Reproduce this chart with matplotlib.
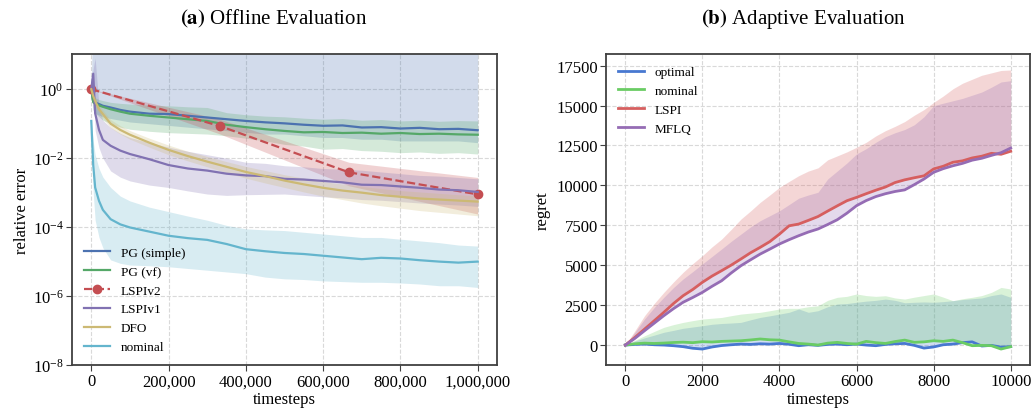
import numpy as np
import matplotlib
matplotlib.use("Agg")
import matplotlib.pyplot as plt
from matplotlib.ticker import FuncFormatter

plt.rcParams["font.family"] = ["Liberation Serif", "DejaVu Serif"]
plt.rcParams["mathtext.fontset"] = "stix"

# ---- (a) offline evaluation: values are log10(relative error) ----
t_off = [0, 5000, 10000, 20000, 30000, 50000, 75000, 100000, 150000, 200000,
         250000, 300000, 350000, 400000, 450000, 500000, 550000, 600000,
         650000, 700000, 750000, 800000, 850000, 900000, 950000, 1000000]

pg_simple = [0, -0.34, -0.39, -0.43, -0.48, -0.53, -0.60, -0.65, -0.71, -0.72, -0.77, -0.82, -0.87,
             -0.92, -0.96, -0.99, -1.03, -1.06, -1.05, -1.11, -1.10, -1.14, -1.12, -1.16, -1.15, -1.19]
pg_simple_lo = [0, -0.6, -0.7, -0.75, -0.8, -0.85, -0.9, -0.95, -1.0, -1.05, -1.1, -1.15, -1.2,
                -1.25, -1.3, -1.3, -1.35, -1.4, -1.4, -1.45, -1.45, -1.5, -1.5, -1.5, -1.5, -1.55]
pg_simple_hi = [0, 3, 3, 3, 3, 3, 3, 3, 3, 3, 3, 3, 3, 3, 3, 3, 3, 3, 3, 3, 3, 3, 3, 3, 3, 3]

pg_vf = [0, -0.38, -0.42, -0.47, -0.51, -0.58, -0.65, -0.71, -0.77, -0.82, -0.87, -0.92, -1.03,
         -1.10, -1.16, -1.21, -1.25, -1.24, -1.27, -1.26, -1.29, -1.27, -1.30, -1.29, -1.31, -1.32]
pg_vf_lo = [0, -0.6, -0.7, -0.8, -0.9, -1.0, -1.1, -1.16, -1.22, -1.26, -1.28, -1.30, -1.35,
            -1.42, -1.5, -1.6, -1.65, -1.74, -1.72, -1.78, -1.8, -1.84, -1.82, -1.86, -1.84, -1.88]
pg_vf_hi = [0, -0.2, -0.25, -0.3, -0.33, -0.38, -0.41, -0.43, -0.46, -0.48, -0.51, -0.53, -0.68,
            -0.74, -0.78, -0.8, -0.84, -0.87, -0.85, -0.9, -0.88, -0.92, -0.9, -0.93, -0.91, -0.92]

t_lspiv2 = [0, 333333, 666667, 1000000]
lspiv2 = [0, -1.07, -2.41, -3.05]
lspiv2_lo = [0, -1.30, -2.80, -3.62]
lspiv2_hi = [0, -0.87, -2.12, -2.56]

lspiv1 = [0, 0.45, -0.7, -1.18, -1.47, -1.64, -1.78, -1.88, -2.03, -2.2, -2.3, -2.36, -2.45,
          -2.5, -2.52, -2.6, -2.62, -2.66, -2.7, -2.77, -2.78, -2.82, -2.86, -2.91, -2.93, -2.98]
lspiv1_lo = [0, 0.2, -1.2, -1.7, -2.0, -2.37, -2.55, -2.66, -2.78, -2.85, -2.95, -3.04, -3.08,
             -3.06, -3.05, -3.04, -3.08, -3.12, -3.15, -3.2, -3.22, -3.26, -3.3, -3.33, -3.36, -3.4]
lspiv1_hi = [0, 0.6, 0.9, -0.5, -0.9, -1.11, -1.28, -1.40, -1.55, -1.68, -1.8, -1.9, -2.0,
             -2.12, -2.15, -2.22, -2.25, -2.3, -2.32, -2.35, -2.4, -2.45, -2.5, -2.52, -2.56, -2.6]

dfo = [0, -0.2, -0.34, -0.58, -0.72, -1.0, -1.18, -1.32, -1.55, -1.76, -1.94, -2.1, -2.25,
       -2.4, -2.52, -2.65, -2.76, -2.86, -2.94, -3.0, -3.07, -3.12, -3.17, -3.2, -3.23, -3.26]
dfo_lo = [0, -0.3, -0.45, -0.7, -0.85, -1.12, -1.3, -1.45, -1.68, -1.9, -2.08, -2.25, -2.42,
          -2.58, -2.72, -2.85, -2.98, -3.1, -3.2, -3.3, -3.38, -3.45, -3.52, -3.57, -3.62, -3.67]
dfo_hi = [0, -0.1, -0.22, -0.45, -0.6, -0.88, -1.06, -1.2, -1.42, -1.62, -1.8, -1.95, -2.1,
          -2.24, -2.36, -2.48, -2.58, -2.68, -2.75, -2.82, -2.88, -2.94, -2.98, -3.02, -3.06, -3.09]

nominal_off = [-0.92, -2.2, -2.85, -3.24, -3.5, -3.77, -3.92, -4.01, -4.13, -4.25, -4.32, -4.37, -4.49,
               -4.64, -4.7, -4.75, -4.78, -4.83, -4.88, -4.93, -4.89, -4.91, -4.96, -5.0, -5.03, -5.0]
nominal_off_lo = [-0.92, -3.0, -3.8, -4.3, -4.6, -4.95, -5.05, -5.1, -5.12, -5.15, -5.2, -5.25, -5.3,
                  -5.35, -5.45, -5.5, -5.52, -5.56, -5.58, -5.6, -5.6, -5.62, -5.65, -5.7, -5.7, -5.75]
nominal_off_hi = [-0.92, -1.5, -1.9, -2.3, -2.55, -2.85, -3.1, -3.24, -3.42, -3.55, -3.68, -3.8, -3.95,
                  -4.05, -4.08, -4.1, -4.15, -4.2, -4.25, -4.3, -4.3, -4.35, -4.4, -4.45, -4.52, -4.55]

# ---- (b) adaptive evaluation: regret, upper edge of shaded band ----
t_ad = np.arange(0, 10001, 250)

optimal = [0, 40, 60, 20, 0, -40, -100, -200, -250, -120, -30, 20, 60, 40, 80, 60, 100, 50, -40, 20, -20,
           40, 60, 20, 60, 0, -40, 40, 80, 100, -20, -190, -120, 20, 60, 150, 200, -60, -20, -130, -100]
optimal_hi = [0, 250, 450, 620, 800, 920, 1050, 1130, 1210, 1300, 1350, 1380, 1420, 1580, 1730, 1830,
              1940, 2050, 2260, 2050, 2150, 2400, 2570, 2600, 2680, 2750, 2800, 2880, 2800, 2650, 2680,
              2700, 2680, 2720, 2780, 2850, 2900, 2950, 3100, 3200, 2990]

nominal = [0, 80, 120, 100, 125, 160, 180, 150, 210, 190, 230, 250, 270, 320, 380, 330, 310, 200, 100, 60,
           0, 120, 170, 100, 60, 230, 150, 100, 220, 310, 170, 200, 270, 230, 310, 150, -40, -20, -40,
           -250, -100]
nominal_hi = [0, 300, 580, 850, 1110, 1280, 1420, 1530, 1630, 1680, 1730, 1840, 1940, 2000, 2050, 2150,
              2260, 2300, 2300, 2400, 2460, 2800, 2990, 3050, 3200, 3100, 3050, 3090, 2950, 2880, 3000,
              3100, 3200, 3000, 2780, 2900, 2990, 3100, 3300, 3610, 3510]

lspi = [0, 480, 1000, 1520, 2050, 2600, 3090, 3480, 3930, 4320, 4660, 5010, 5390, 5780, 6120, 6480,
        6950, 7470, 7580, 7810, 8050, 8390, 8720, 9040, 9250, 9480, 9700, 9900, 10180, 10350, 10480,
        10600, 11030, 11200, 11450, 11540, 11720, 11830, 12010, 11950, 12140]
lspi_hi = [0, 900, 1840, 2600, 3300, 3950, 4560, 5100, 5600, 6150, 6640, 7250, 7890, 8400, 8940, 9400,
           9880, 10250, 10610, 10900, 11100, 11600, 11850, 12100, 12390, 12700, 13100, 13430, 13700,
           14000, 14400, 14750, 15200, 15600, 16050, 16400, 16650, 16900, 17050, 17200, 17230]

mflq = [0, 420, 900, 1370, 1840, 2280, 2680, 2980, 3300, 3680, 4030, 4520, 4970, 5340, 5700, 6010,
        6330, 6600, 6850, 7080, 7270, 7550, 7850, 8260, 8730, 9050, 9300, 9480, 9620, 9720, 10050,
        10400, 10820, 11050, 11230, 11380, 11580, 11700, 11880, 12050, 12340]
mflq_hi = [0, 800, 1630, 2350, 2990, 3600, 4140, 4600, 5080, 5550, 6020, 6500, 6950, 7400, 7790, 8100,
           8410, 8800, 9200, 9400, 9570, 10400, 10900, 11400, 11970, 12300, 12700, 13050, 13300, 13500,
           13800, 14300, 14990, 15150, 15300, 15450, 15650, 15850, 16150, 16480, 16560]

deep = ["#4C72B0", "#55A868", "#C44E52", "#8172B2", "#CCB974", "#64B5CD"]
muted = ["#4878D0", "#6ACC64", "#D65F5F", "#956CB4"]

fig = plt.figure(figsize=(10.34, 4.14), dpi=100)
ax1 = fig.add_axes([0.0696, 0.1159, 0.4111, 0.7512])
ax2 = fig.add_axes([0.5861, 0.1159, 0.4100, 0.7512])


def p10(a):
    return 10.0 ** np.asarray(a)


off_series = [
    ("PG (simple)", t_off, pg_simple, pg_simple_lo, pg_simple_hi, deep[0], "-", None),
    ("PG (vf)", t_off, pg_vf, pg_vf_lo, pg_vf_hi, deep[1], "-", None),
    ("LSPIv2", t_lspiv2, lspiv2, lspiv2_lo, lspiv2_hi, deep[2], "--", "o"),
    ("LSPIv1", t_off, lspiv1, lspiv1_lo, lspiv1_hi, deep[3], "-", None),
    ("DFO", t_off, dfo, dfo_lo, dfo_hi, deep[4], "-", None),
    ("nominal", t_off, nominal_off, nominal_off_lo, nominal_off_hi, deep[5], "-", None),
]
for label, t, m, lo, hi, c, ls, mk in off_series:
    ax1.fill_between(t, p10(lo), p10(hi), color=c, alpha=0.25, linewidth=0)
for label, t, m, lo, hi, c, ls, mk in off_series:
    ax1.plot(t, p10(m), color=c, linestyle=ls, marker=mk, markersize=6, lw=1.6, label=label)

ax1.set_yscale("log")
ax1.set_ylim(1e-8, 1.05e1)
ax1.set_yticks([1e-8, 1e-6, 1e-4, 1e-2, 1e0])
ax1.yaxis.set_minor_locator(matplotlib.ticker.NullLocator())
ax1.set_xlim(-50000, 1050000)
ax1.set_xticks([0, 200000, 400000, 600000, 800000, 1000000])
ax1.xaxis.set_major_formatter(FuncFormatter(lambda v, p: f"{v:,.0f}"))
ax1.set_xlabel("timesteps", fontsize=12, labelpad=1)
ax1.set_ylabel("relative error", fontsize=12, labelpad=2)
ax1.legend(loc="lower left", frameon=False, fontsize=9.5)

ad_series = [
    ("optimal", optimal, optimal_hi, muted[0]),
    ("nominal", nominal, nominal_hi, muted[1]),
    ("LSPI", lspi, lspi_hi, muted[2]),
    ("MFLQ", mflq, mflq_hi, muted[3]),
]
for label, m, hi, c in ad_series:
    ax2.fill_between(t_ad, m, hi, color=c, alpha=0.25, linewidth=0)
for label, m, hi, c in ad_series:
    ax2.plot(t_ad, m, color=c, lw=2.0, label=label)

ax2.set_xlim(-500, 10500)
ax2.set_ylim(-1250, 18230)
ax2.set_xticks([0, 2000, 4000, 6000, 8000, 10000])
ax2.set_yticks([0, 2500, 5000, 7500, 10000, 12500, 15000, 17500])
ax2.set_xlabel("timesteps", fontsize=12, labelpad=1)
ax2.set_ylabel("regret", fontsize=12, labelpad=4)
ax2.legend(loc="upper left", frameon=False, fontsize=9.5)

for ax in (ax1, ax2):
    ax.grid(True, linestyle="--", color="0.85", linewidth=0.8)
    ax.set_axisbelow(True)
    for s in ax.spines.values():
        s.set_color("0.25")
        s.set_linewidth(1.3)
    ax.tick_params(labelsize=12, length=4, color="0.25", pad=2)

fig.text(0.265, 0.955, r"$\mathbf{(a)}$ Offline Evaluation", fontsize=15, ha="center", va="center")
fig.text(0.777, 0.955, r"$\mathbf{(b)}$ Adaptive Evaluation", fontsize=15, ha="center", va="center")

fig.savefig("out.png", dpi=100)
